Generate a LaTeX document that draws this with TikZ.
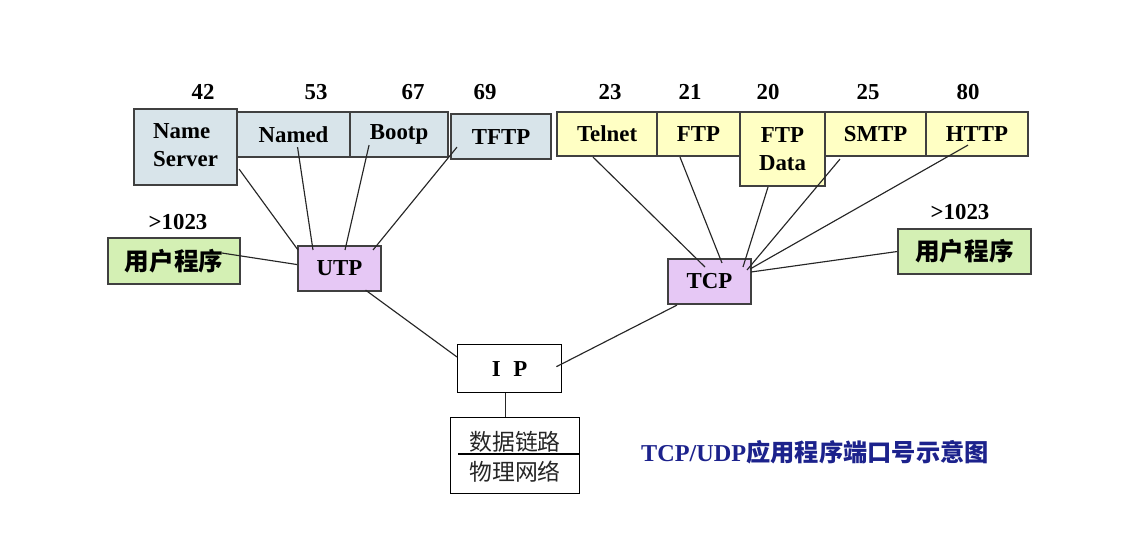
\documentclass[tikz,border=0pt]{standalone}
\usepackage{fontspec}
\setmainfont{Liberation Serif}
\newfontfamily\cjk{Noto Sans CJK SC}
\usetikzlibrary{calc}
\definecolor{bleugris}{RGB}{216,228,234}
\definecolor{jaunepale}{RGB}{255,255,196}
\definecolor{vertpale}{RGB}{212,240,180}
\definecolor{mauvepale}{RGB}{230,200,245}
\definecolor{titrebleu}{RGB}{28,34,140}
\tikzstyle{boite} = [rectangle, draw=black!75, line width=1.2pt, anchor=north west, inner sep=0pt, align=center, font=\fontsize{13}{16}\selectfont\bfseries]
\tikzstyle{bleu} = [boite, fill=bleugris]
\tikzstyle{jaune} = [boite, fill=jaunepale]
\tikzstyle{vert} = [boite, fill=vertpale, font={\fontsize{14}{16}\selectfont\cjk\bfseries}]
\tikzstyle{mauve} = [boite, fill=mauvepale]
\tikzstyle{incolore} = [boite, draw=black, line width=0.8pt]
\tikzstyle{port} = [font=\fontsize{13}{15}\selectfont\bfseries]
\tikzstyle{lien} = [draw=black!85, line width=0.65pt]

\begin{document}
\begin{tikzpicture}[x=0.02cm, y=0.02cm]
        \useasboundingbox (0,0) rectangle (1130,-560);

        % ports UDP
        \node (NS) [bleu, minimum width=2.06cm, minimum height=1.52cm] at (133,-108) {\begin{tabular}{@{}l@{}}Name\\Server\end{tabular}};
        \node (NA) [bleu, minimum width=2.26cm, minimum height=0.9cm] at (236,-111) {Named};
        \node (BO) [bleu, minimum width=1.96cm, minimum height=0.9cm] at (349,-111) {Bootp};
        \node (TF) [bleu, minimum width=2.0cm, minimum height=0.9cm] at (450,-113) {TFTP};

        % ports TCP
        \node (TE) [jaune, minimum width=2.0cm, minimum height=0.88cm] at (556,-111) {Telnet};
        \node (FT) [jaune, minimum width=1.66cm, minimum height=0.88cm] at (656,-111) {FTP};
        \node (FD) [jaune, minimum width=1.7cm, minimum height=1.48cm] at (739,-111) {FTP\\Data};
        \node (SM) [jaune, minimum width=2.02cm, minimum height=0.88cm] at (824,-111) {SMTP};
        \node (HT) [jaune, minimum width=2.04cm, minimum height=0.88cm] at (925,-111) {HTTP};

        \node (P42) [port] at (203,-92) {42};
        \node (P53) [port] at (316,-92) {53};
        \node (P67) [port] at (413,-92) {67};
        \node (P69) [port] at (485,-92) {69};
        \node (P23) [port] at (610,-92) {23};
        \node (P21) [port] at (690,-92) {21};
        \node (P20) [port] at (768,-92) {20};
        \node (P25) [port] at (868,-92) {25};
        \node (P80) [port] at (968,-92) {80};

        % programmes utilisateur
        \node (U1) [vert, minimum width=2.64cm, minimum height=0.92cm] at (107,-237) {用户程序};
        \node (U2) [vert, minimum width=2.66cm, minimum height=0.9cm] at (897,-228) {用户程序};
        \node (P1) [port] at (178,-222) {>1023};
        \node (P2) [port] at (960,-212) {>1023};

        \node (UTP) [mauve, minimum width=1.66cm, minimum height=0.9cm] at (297,-245) {UTP};
        \node (TCP) [mauve, minimum width=1.66cm, minimum height=0.9cm] at (667,-258) {TCP};

        \node (IP) [incolore, minimum width=2.08cm, minimum height=0.96cm] at (457,-344) {I\hspace{0.55em}P};
        \node (DL) [incolore, minimum width=2.58cm, minimum height=1.52cm] at (450,-417) {};
        \node (T1) [font=\fontsize{13}{15}\selectfont\cjk, text=black!85] at (515,-442) {数据链路};
        \node (T2) [font=\fontsize{13}{15}\selectfont\cjk, text=black!85] at (515,-472) {物理网络};
        \draw[black, line width=0.8pt] ($(DL.north west)+(8,-37)$) -- ($(DL.north east)+(0,-37)$);

        \node (TI) [text=titrebleu] at (815,-452) {\fontsize{13.8}{16}\selectfont\bfseries TCP/UDP{\cjk\bfseries 应用程序端口号示意图}};

        % liens UTP
        \draw[lien] ($(NS.south east)+(1,17)$) -- ($(UTP.north west)+(1,-5)$);
        \draw[lien] ($(NA.south)+(4,11)$) -- ($(UTP.north west)+(16,-5)$);
        \draw[lien] ($(BO.south)+(-30,13)$) -- ($(UTP.north west)+(48,-5)$);
        \draw[lien] ($(TF.south west)+(7,13)$) -- ($(UTP.north west)+(76,-5)$);
        \draw[lien] ($(U1.east)+(-19,8)$) -- ($(UTP.west)+(0,4)$);

        % liens TCP
        \draw[lien] ($(TE.south west)+(37,0)$) -- ($(TCP.north west)+(38,-9)$);
        \draw[lien] ($(FT.south west)+(24,0)$) -- ($(TCP.north west)+(55,-5)$);
        \draw[lien] ($(FD.south west)+(29,0)$) -- ($(TCP.north west)+(76,-9)$);
        \draw[lien] ($(SM.south west)+(16,-2)$) -- ($(TCP.north west)+(80,-12)$);
        \draw[lien] ($(HT.south west)+(43,12)$) -- ($(TCP.north east)+(-2,-11)$);
        \draw[lien] (U2.west) -- ($(TCP.north east)+(-1,-14)$);

        % IP
        \draw[lien] ($(UTP.south)+(26,2)$) -- ($(IP.north west)+(0,-13)$);
        \draw[lien] ($(TCP.south west)+(10,0)$) -- ($(IP.east)+(-6,2)$);
        \draw[lien] ($(IP.south)+(-4,0)$) -- ($(IP.south |- DL.north)+(-4,0)$);

    \end{tikzpicture}
\end{document}
